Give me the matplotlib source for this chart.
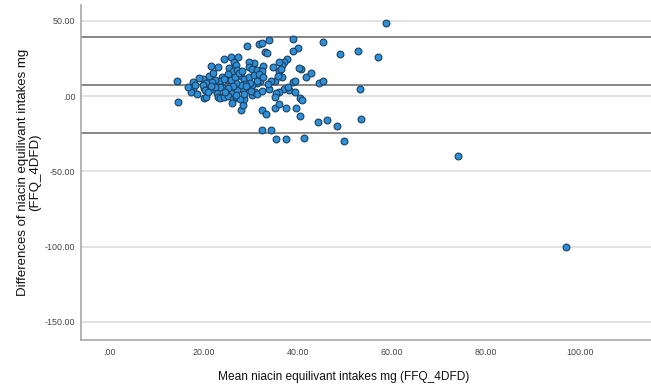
import numpy as np
import matplotlib
matplotlib.use("Agg")
import matplotlib.pyplot as plt
from matplotlib.ticker import FuncFormatter

plt.rcParams["font.family"] = ["Liberation Sans", "DejaVu Sans"]

# mean of the two methods (x) and their difference (y)
mean_ne = [
    14.3, 14.5, 17.8, 17.7, 17.3, 21.5, 23.0, 24.3, 25.9, 27.4, 21.2, 29.3, 31.7, 32.5,
    34.0, 33.1, 33.5, 39.1, 40.1, 38.9, 45.3, 48.9, 52.8, 57.1, 58.8, 53.3, 53.5, 48.4,
    46.3, 44.3, 49.9, 41.3, 37.5, 35.4, 32.4, 34.4, 74.0, 97.0,
    40.5, 41.0, 40.4, 37.5, 39.6, 32.5, 33.3, 35.1, 36.0, 28.0, 28.4, 28.6,
    44.6, 45.3, 41.8, 42.8, 40.6, 40.2, 37.8, 37.2, 36.7, 36.1, 34.8, 36.0, 36.4,
    32.7, 30.7, 29.6, 29.7, 30.4, 31.4, 32.4,
    19.9, 20.2, 20.1, 20.6, 26.5, 26.9, 25.5, 26.3, 27.2, 25.3, 24.0, 24.9, 36.7, 35.1,
    34.3, 38.9, 39.4, 37.2, 38.2, 39.4, 36.1, 35.4, 35.1, 32.1, 31.3, 30.4, 29.3, 28.3,
    27.2, 25.9, 24.9, 23.6, 22.8, 21.9, 22.6, 23.5, 24.3, 22.4, 21.9, 20.6, 19.9, 20.4,
    23.0, 23.5, 24.3, 25.3, 26.2, 26.9, 27.7, 28.7, 30.3, 30.9, 31.4, 32.4, 34.0, 27.9,
    28.7, 29.7, 30.7, 31.7, 32.6, 31.4, 29.9, 28.9, 27.9, 26.9, 25.9, 26.6, 27.6, 28.2,
    26.2, 25.3, 24.0, 23.5, 22.5, 21.6,
    18.3, 19.0, 22.0, 24.6, 27.0, 29.0, 30.0, 33.8, 35.8, 38.0, 16.8, 18.6, 21.0, 26.0,
]
diff_ne = [
    9.8, -4.0, 9.5, 4.6, 3.0, 20.0, 19.5, 24.6, 25.7, 26.1, 13.3, 33.4, 34.3, 35.2,
    37.0, 29.4, 28.8, 37.7, 31.7, 29.7, 35.7, 27.7, 30.1, 25.9, 48.7, 4.9, -15.3, -19.7,
    -15.7, -17.5, -30.1, -27.7, -28.3, -28.6, -22.6, -22.8, -39.9, -100.3,
    -1.3, -2.7, -13.3, -8.2, -8.2, -9.3, -12.2, -8.2, -5.3, -9.3, -5.8, -2.2,
    8.9, 10.2, 12.6, 15.3, 17.9, 18.4, 24.6, 22.4, 20.4, 22.6, 19.1, 16.8, 18.1,
    19.7, 21.7, 22.4, 19.5, 18.1, 17.3, 16.4,
    11.3, 5.5, -1.5, -0.9, 22.8, 20.4, 18.4, 16.8, 17.1, 14.6, 12.4, 10.6, 12.8, 10.0,
    10.2, 9.5, 9.8, 4.7, 3.8, 2.9, 2.7, 1.8, -0.4, 9.7, 8.4, 7.1, 5.8, 4.9,
    4.0, 2.2, 0.4, -0.4, 2.2, 4.9, 8.0, 9.7, 11.5, 10.6, 9.3, 8.4, 7.1, 4.0,
    -0.4, -1.3, -0.9, 0.0, -1.8, -0.4, -2.2, 1.3, 0.4, 2.7, 1.3, 3.5, 4.4, 13.3,
    11.5, 12.4, 13.7, 14.6, 12.4, 9.7, 8.9, 8.0, 7.1, 8.9, 10.6, 12.4, 15.1, 16.4,
    6.6, 5.3, 5.8, 5.8, 6.2, 6.6,
    7.5, 12.0, 15.5, 3.0, 1.0, 6.5, 3.2, 7.8, 13.5, 6.0, 6.0, 1.5, 2.5, -4.5,
]

# mean difference and limits of agreement
bias = 7.1
upper_loa = 39.0
lower_loa = -24.8

xticks = [0, 20, 40, 60, 80, 100]
yticks = [50, 0, -50, -100, -150]


def spss_fmt(v, pos=None):
    s = f"{v:.2f}"
    if s.startswith("0."):
        s = s[1:]
    return s


fig = plt.figure(figsize=(6.51, 3.85), dpi=100)
ax = fig.add_axes([0.1244, 0.117, 0.8756, 0.870])

for yt in yticks:
    ax.axhline(yt, color="#e2e2e2", lw=1.4, zorder=1)
for yl in (upper_loa, bias, lower_loa):
    ax.axhline(yl, color="#7d7d7d", lw=1.3, zorder=2)

ax.scatter(mean_ne, diff_ne, s=24, facecolor="#2d8fd8", edgecolor="#1d3f5e",
           linewidth=0.8, zorder=3)

ax.set_xlim(-6, 115)
ax.set_ylim(-162, 60.5)
ax.set_xticks(xticks)
ax.set_yticks(yticks)
ax.xaxis.set_major_formatter(FuncFormatter(spss_fmt))
ax.yaxis.set_major_formatter(FuncFormatter(spss_fmt))
ax.tick_params(length=0, labelsize=6.4, colors="#444444", pad=4)
ax.tick_params(axis="x", pad=6)

for side in ("top", "right"):
    ax.spines[side].set_visible(False)
for side in ("left", "bottom"):
    ax.spines[side].set_color("#a8a8a8")
    ax.spines[side].set_linewidth(1.2)

ax.set_xlabel("Mean niacin equilivant intakes mg (FFQ_4DFD)", fontsize=8.6,
              color="#111111", labelpad=9)
ax.xaxis.set_label_coords(0.46, -0.092)
ax.set_ylabel("Differences of niacin equilivant intakes mg\n(FFQ_4DFD)",
              fontsize=9.5, color="#111111", labelpad=3, linespacing=1.0)

fig.savefig("out.png", dpi=100)
